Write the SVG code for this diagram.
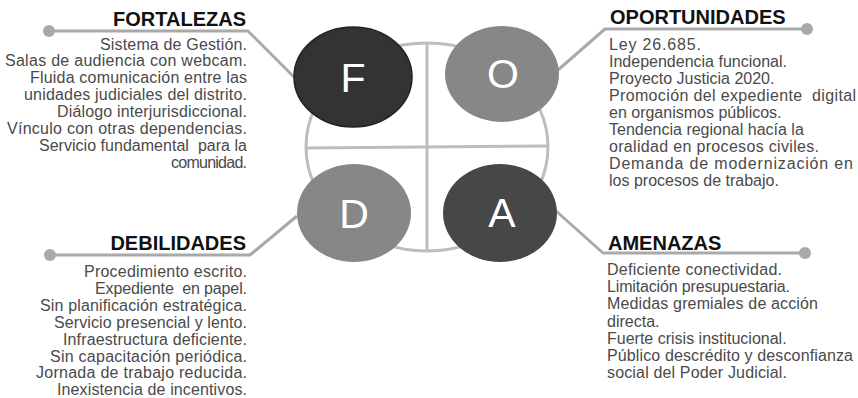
<svg xmlns="http://www.w3.org/2000/svg" width="858" height="398" viewBox="0 0 858 398">
  <style>
    .frame { fill: none; stroke: #bdbdbd; stroke-width: 3; }
    .link { fill: none; stroke: #a9a9a9; stroke-width: 3; stroke-linejoin: round; }
    .dot { fill: #a9a9a9; }
    .letter { font-family: "Liberation Sans", Arial, sans-serif; font-size: 41px; fill: #ffffff; text-anchor: middle; }
    .head { font-family: "Liberation Sans", Arial, sans-serif; font-size: 20px; font-weight: bold; fill: #111111; }
    .body { font-family: "Liberation Sans", Arial, sans-serif; font-size: 16px; fill: #4a4a4a; white-space: pre; }
    .end { text-anchor: end; }
  </style>
  <rect width="858" height="398" fill="#ffffff"/>

  <!-- central quadrant frame -->
  <g id="frame">
    <ellipse class="frame" cx="427" cy="147" rx="121" ry="104"/>
    <line class="frame" x1="427" y1="43" x2="427" y2="251"/>
    <line class="frame" x1="306" y1="148" x2="548" y2="146"/>
  </g>

  <!-- connectors from each quadrant to its list -->
  <g id="connectors">
    <polyline class="link" points="49,31 248,31 296,79"/>
    <circle class="dot" cx="49" cy="31" r="6"/>
    <polyline class="link" points="807,29 605,29 558,70"/>
    <circle class="dot" cx="807" cy="29" r="6"/>
    <polyline class="link" points="50,255 250,255 297,216"/>
    <circle class="dot" cx="50" cy="255" r="6"/>
    <polyline class="link" points="805,253 603,253 556,211"/>
    <circle class="dot" cx="805" cy="253" r="6"/>
  </g>

  <g id="node-f">
    <ellipse cx="353" cy="77" rx="59" ry="50" fill="#333333" stroke="#222222" stroke-width="1.5"/>
    <text class="letter" x="353" y="92">F</text>
  </g>
  <g id="node-o">
    <ellipse cx="502" cy="74" rx="57" ry="48" fill="#878787"/>
    <text class="letter" x="503" y="88">O</text>
  </g>
  <g id="node-d">
    <ellipse cx="354" cy="213" rx="57" ry="49" fill="#878787"/>
    <text class="letter" x="354" y="228">D</text>
  </g>
  <g id="node-a">
    <ellipse cx="500" cy="213" rx="57" ry="49" fill="#474747"/>
    <text class="letter" x="502" y="227">A</text>
  </g>

  <!-- strengths: right-aligned list -->
  <g id="fortalezas">
    <text class="head end" x="246" y="26">FORTALEZAS</text>
    <text class="body end" x="247" y="49.5" textLength="147">Sistema de Gestión.</text>
    <text class="body end" x="247" y="66.4" textLength="242">Salas de audiencia con webcam.</text>
    <text class="body end" x="247" y="83.3" textLength="217">Fluida comunicación entre las</text>
    <text class="body end" x="247" y="100.2" textLength="223">unidades judiciales del distrito.</text>
    <text class="body end" x="247" y="117.1" textLength="190">Diálogo interjurisdiccional.</text>
    <text class="body end" x="247" y="134" textLength="240">Vínculo con otras dependencias.</text>
    <text class="body end" x="247" y="150.9" textLength="208">Servicio fundamental  para la</text>
    <text class="body end" x="247" y="167.8" textLength="76">comunidad.</text>
  </g>

  <!-- opportunities: left-aligned list -->
  <g id="oportunidades">
    <text class="head" x="610" y="24">OPORTUNIDADES</text>
    <text class="body" x="609" y="49.5" textLength="92">Ley 26.685.</text>
    <text class="body" x="609" y="66.6">Independencia funcional.</text>
    <text class="body" x="609" y="83.7">Proyecto Justicia 2020.</text>
    <text class="body" x="609" y="100.8" textLength="247">Promoción del expediente  digital</text>
    <text class="body" x="609" y="117.9">en organismos públicos.</text>
    <text class="body" x="609" y="135">Tendencia regional hacía la</text>
    <text class="body" x="609" y="152.1" textLength="210">oralidad en procesos civiles.</text>
    <text class="body" x="609" y="169.2" textLength="244">Demanda de modernización en</text>
    <text class="body" x="609" y="186.3">los procesos de trabajo.</text>
  </g>

  <!-- weaknesses: right-aligned list -->
  <g id="debilidades">
    <text class="head end" x="246" y="250">DEBILIDADES</text>
    <text class="body end" x="247" y="277" textLength="163">Procedimiento escrito.</text>
    <text class="body end" x="247" y="293.9" textLength="152">Expediente  en papel.</text>
    <text class="body end" x="247" y="310.8" textLength="207">Sin planificación estratégica.</text>
    <text class="body end" x="247" y="327.7" textLength="193">Servicio presencial y lento.</text>
    <text class="body end" x="247" y="344.6" textLength="184">Infraestructura deficiente.</text>
    <text class="body end" x="247" y="361.5" textLength="197">Sin capacitación periódica.</text>
    <text class="body end" x="247" y="378.4" textLength="211">Jornada de trabajo reducida.</text>
    <text class="body end" x="247" y="395.3" textLength="190">Inexistencia de incentivos.</text>
  </g>

  <!-- threats: left-aligned list -->
  <g id="amenazas">
    <text class="head" x="608" y="250">AMENAZAS</text>
    <text class="body" x="607" y="275" textLength="175">Deficiente conectividad.</text>
    <text class="body" x="607" y="292.2" textLength="183">Limitación presupuestaria.</text>
    <text class="body" x="607" y="309.4" textLength="211">Medidas gremiales de acción</text>
    <text class="body" x="607" y="326.6">directa.</text>
    <text class="body" x="607" y="343.8">Fuerte crisis institucional.</text>
    <text class="body" x="607" y="361" textLength="246">Público descrédito y desconfianza</text>
    <text class="body" x="607" y="378.2" textLength="180">social del Poder Judicial.</text>
  </g>
</svg>
